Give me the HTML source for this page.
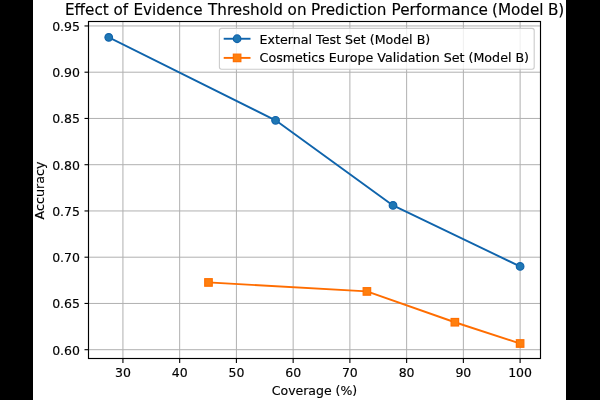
<!DOCTYPE html>
<html><head><meta charset="utf-8"><title>Effect of Evidence Threshold</title>
<style>html,body{margin:0;padding:0;background:#000;width:600px;height:400px;overflow:hidden}svg{display:block}text{font-family:"DejaVu Sans","Liberation Sans",sans-serif;fill:#000;stroke:#000;stroke-width:0.15px}</style></head><body>
<svg width="600" height="400" viewBox="0 0 600 400">
<rect x="0" y="0" width="600" height="400" fill="#000"/>
<rect x="33" y="0" width="533" height="400" fill="#fff"/>
<g stroke="#b0b0b0" stroke-width="1" fill="none">
<line x1="122.93" y1="21.5" x2="122.93" y2="358.5"/>
<line x1="179.67" y1="21.5" x2="179.67" y2="358.5"/>
<line x1="236.41" y1="21.5" x2="236.41" y2="358.5"/>
<line x1="293.15" y1="21.5" x2="293.15" y2="358.5"/>
<line x1="349.89" y1="21.5" x2="349.89" y2="358.5"/>
<line x1="406.63" y1="21.5" x2="406.63" y2="358.5"/>
<line x1="463.37" y1="21.5" x2="463.37" y2="358.5"/>
<line x1="520.11" y1="21.5" x2="520.11" y2="358.5"/>
<line x1="88.5" y1="349.70" x2="540.5" y2="349.70"/>
<line x1="88.5" y1="303.45" x2="540.5" y2="303.45"/>
<line x1="88.5" y1="257.20" x2="540.5" y2="257.20"/>
<line x1="88.5" y1="210.95" x2="540.5" y2="210.95"/>
<line x1="88.5" y1="164.70" x2="540.5" y2="164.70"/>
<line x1="88.5" y1="118.45" x2="540.5" y2="118.45"/>
<line x1="88.5" y1="72.20" x2="540.5" y2="72.20"/>
<line x1="88.5" y1="25.95" x2="540.5" y2="25.95"/>
</g>
<g stroke="#000" stroke-width="1.1" fill="none">
<line x1="122.93" y1="358.5" x2="122.93" y2="362.90"/>
<line x1="179.67" y1="358.5" x2="179.67" y2="362.90"/>
<line x1="236.41" y1="358.5" x2="236.41" y2="362.90"/>
<line x1="293.15" y1="358.5" x2="293.15" y2="362.90"/>
<line x1="349.89" y1="358.5" x2="349.89" y2="362.90"/>
<line x1="406.63" y1="358.5" x2="406.63" y2="362.90"/>
<line x1="463.37" y1="358.5" x2="463.37" y2="362.90"/>
<line x1="520.11" y1="358.5" x2="520.11" y2="362.90"/>
<line x1="84.50" y1="349.70" x2="88.5" y2="349.70"/>
<line x1="84.50" y1="303.45" x2="88.5" y2="303.45"/>
<line x1="84.50" y1="257.20" x2="88.5" y2="257.20"/>
<line x1="84.50" y1="210.95" x2="88.5" y2="210.95"/>
<line x1="84.50" y1="164.70" x2="88.5" y2="164.70"/>
<line x1="84.50" y1="118.45" x2="88.5" y2="118.45"/>
<line x1="84.50" y1="72.20" x2="88.5" y2="72.20"/>
<line x1="84.50" y1="25.95" x2="88.5" y2="25.95"/>
</g>
<g font-size="12.5px" text-anchor="middle">
<text x="122.93" y="377.4">30</text>
<text x="179.67" y="377.4">40</text>
<text x="236.41" y="377.4">50</text>
<text x="293.15" y="377.4">60</text>
<text x="349.89" y="377.4">70</text>
<text x="406.63" y="377.4">80</text>
<text x="463.37" y="377.4">90</text>
<text x="520.11" y="377.4">100</text>
</g>
<g font-size="12.5px" text-anchor="end">
<text x="80.0" y="355">0.60</text>
<text x="80.0" y="308">0.65</text>
<text x="80.0" y="262">0.70</text>
<text x="80.0" y="216">0.75</text>
<text x="80.0" y="170">0.80</text>
<text x="80.0" y="123">0.85</text>
<text x="80.0" y="77">0.90</text>
<text x="80.0" y="31">0.95</text>
</g>
<polyline points="108.74,37.33 275.56,120.30 393.01,205.40 520.11,266.45" fill="none" stroke="#0f64ac" stroke-width="1.9" stroke-linejoin="round" stroke-linecap="square"/>
<circle cx="108.74" cy="37.33" r="3.8" fill="#1f77b4" stroke="#1063ab" stroke-width="1.2"/>
<circle cx="275.56" cy="120.30" r="3.8" fill="#1f77b4" stroke="#1063ab" stroke-width="1.2"/>
<circle cx="393.01" cy="205.40" r="3.8" fill="#1f77b4" stroke="#1063ab" stroke-width="1.2"/>
<circle cx="520.11" cy="266.45" r="3.8" fill="#1f77b4" stroke="#1063ab" stroke-width="1.2"/>
<polyline points="208.49,282.45 366.91,291.42 454.86,322.23 520.11,343.50" fill="none" stroke="#ff6d00" stroke-width="1.9" stroke-linejoin="round" stroke-linecap="square"/>
<rect x="204.74" y="278.70" width="7.5" height="7.5" fill="#ff7f0e" stroke="#ff6f00" stroke-width="1.2"/>
<rect x="363.16" y="287.67" width="7.5" height="7.5" fill="#ff7f0e" stroke="#ff6f00" stroke-width="1.2"/>
<rect x="451.11" y="318.48" width="7.5" height="7.5" fill="#ff7f0e" stroke="#ff6f00" stroke-width="1.2"/>
<rect x="516.36" y="339.75" width="7.5" height="7.5" fill="#ff7f0e" stroke="#ff6f00" stroke-width="1.2"/>
<rect x="88.5" y="21.5" width="452.00" height="337.00" fill="none" stroke="#000" stroke-width="1.15"/>
<text y="15" font-size="15.2px"><tspan x="65.00">Effect</tspan> <tspan x="113.53">of</tspan> <tspan x="133.40">Evidence</tspan> <tspan x="208.03">Threshold</tspan> <tspan x="287.60">on</tspan> <tspan x="310.94">Prediction</tspan> <tspan x="391.62">Performance</tspan> <tspan x="491.98">(Model</tspan> <tspan x="547.94">B)</tspan></text>
<text x="314.50" y="394.8" font-size="12.5px" text-anchor="middle">Coverage (%)</text>
<text transform="translate(43.5,190.5) rotate(-90)" font-size="12.7px" text-anchor="middle">Accuracy</text>
<rect x="219.4" y="28.4" width="314.8" height="40.9" rx="2.2" ry="2.2" fill="#fff" fill-opacity="0.8" stroke="#c8c8c8" stroke-opacity="0.95" stroke-width="1.1"/>
<line x1="223.7" y1="38.75" x2="250.5" y2="38.75" stroke="#0f64ac" stroke-width="1.9"/>
<circle cx="237.1" cy="38.75" r="3.8" fill="#1f77b4" stroke="#1063ab" stroke-width="1.2"/>
<line x1="223.7" y1="57.9" x2="250.5" y2="57.9" stroke="#ff6d00" stroke-width="1.9"/>
<rect x="233.35" y="54.15" width="7.5" height="7.5" fill="#ff7f0e" stroke="#ff6f00" stroke-width="1.2"/>
<text x="259.6" y="44" font-size="12.65px">External Test Set (Model B)</text>
<text x="259.6" y="62.4" font-size="12.65px">Cosmetics Europe Validation Set (Model B)</text>
</svg></body></html>
